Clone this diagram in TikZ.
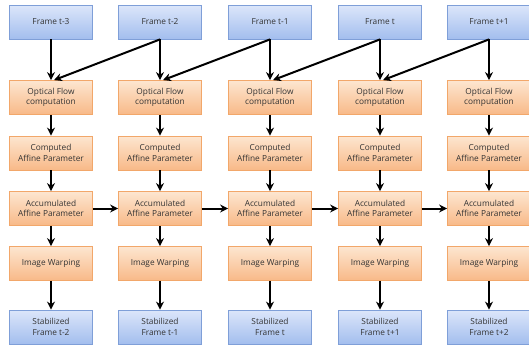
\documentclass[tikz,border=0pt]{standalone}
\usepackage{fontspec}
\setmainfont{Open Sans}
\usetikzlibrary{arrows.meta}
\definecolor{bluetop}{HTML}{DCE6FA}
\definecolor{bluebot}{HTML}{A3BEEE}
\definecolor{blueln}{HTML}{7F9FD8}
\definecolor{orgtop}{HTML}{FDE6D0}
\definecolor{orgbot}{HTML}{F8B988}
\definecolor{orgln}{HTML}{F2A76A}
\tikzset{
  box/.style={minimum width=83pt, minimum height=34pt, inner sep=1pt, align=center,
    font=\fontsize{8.3pt}{10.6pt}\selectfont, text=black!80},
  bluebox/.style={box, draw=blueln, line width=0.8pt, top color=bluetop, bottom color=bluebot},
  orgbox/.style={box, draw=orgln, line width=0.8pt, top color=orgtop, bottom color=orgbot},
  arr/.style={line width=2pt, -{Stealth[length=8pt,width=8pt]}}
}
\begin{document}
\begin{tikzpicture}[x=1pt,y=-1pt]
\useasboundingbox (0,0) rectangle (529,349);
\foreach \i/\x/\fr/\st in {1/51/t-3/t-2, 2/160/t-2/t-1, 3/270/t-1/t, 4/380/t/t+1, 5/489/t+1/t+2} {
  \node[bluebox] (f\i) at (\x,22) {Frame \fr};
  \node[orgbox] (o\i) at (\x,97.5) {Optical Flow\\computation};
  \node[orgbox] (c\i) at (\x,153) {Computed\\Affine Parameter};
  \node[orgbox] (a\i) at (\x,208.5) {Accumulated\\Affine Parameter};
  \node[orgbox] (w\i) at (\x,263.5) {Image Warping};
  \node[bluebox] (s\i) at (\x,327) {Stabilized\\Frame \st};
  \draw[arr] (f\i) -- (o\i);
  \draw[arr] (o\i) -- (c\i);
  \draw[arr] (c\i) -- (a\i);
  \draw[arr] (a\i) -- (w\i);
  \draw[arr] (w\i) -- (s\i);
}
\foreach \i/\j in {1/2, 2/3, 3/4, 4/5} {
  \draw[arr] (f\j.south) -- ([xshift=3pt]o\i.north);
  \draw[arr] (a\i) -- (a\j);
}
\end{tikzpicture}
\end{document}
